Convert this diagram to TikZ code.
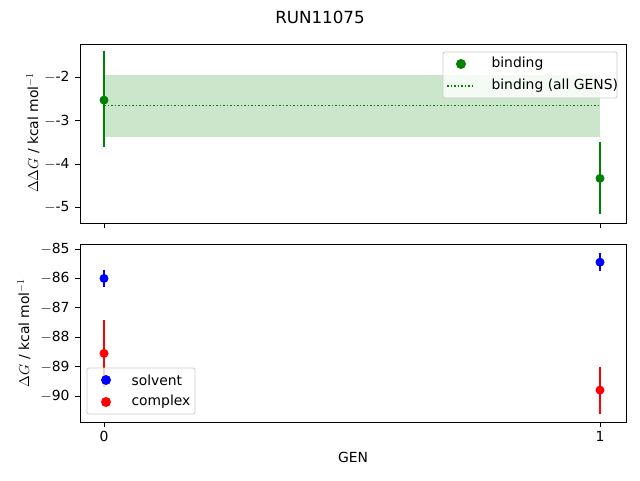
\documentclass[tikz,border=0pt]{standalone}
\usepackage{fontspec}
\setmainfont{DejaVu Sans}
\definecolor{mplgreen}{RGB}{0,128,0}
\definecolor{bandgreen}{RGB}{204,230,204}
\begin{document}
\begin{tikzpicture}[x=1pt,y=-1pt,font=\fontsize{13.9}{16}\selectfont,
  axis/.style={draw=black,line width=0.8pt},
  tick/.style={line width=0.8pt},
  err/.style={line width=1.5pt},
  dot/.style={fill=#1,draw=none},
  legendbox/.style={draw=black!20,fill=white,fill opacity=0.8,rounded corners=2pt,line width=0.8pt}]
\useasboundingbox (0,0) rectangle (640,480);
\node at (320,17) {\fontsize{16.7}{19}\selectfont RUN11075};

% top panel
\fill[bandgreen] (104,74.8) rectangle (600,137);
\draw[mplgreen,dotted,line width=1.5pt] (104,105.3) -- (600,105.3);
\draw[err,mplgreen] (104,50.9) -- (104,146.6);
\fill[dot=mplgreen] (104,100.1) circle (4.5);
\draw[err,mplgreen] (600,142.3) -- (600,214);
\fill[dot=mplgreen] (600,178.4) circle (4.5);
\draw[axis] (80,44) rectangle (626,223);
\foreach \v/\p in {-2/77,-3/120.5,-4/164,-5/207.5}
  {\draw[tick] (80,\p) -- (75,\p); \node[anchor=east] at (73,\p) {$-$\v};}
\foreach \p in {104,600} \draw[tick] (\p,223) -- (\p,228);
\node[rotate=90] at (33,133) {$\Delta\Delta G$ / kcal mol$^{-1}$};
\draw[legendbox] (443,52) rectangle (617,98);
\fill[dot=mplgreen] (461,64) circle (5);
\node[anchor=west] at (488,64) {binding};
\draw[mplgreen,dotted,line width=1.5pt] (447,86) -- (475,86);
\node[anchor=west] at (488,86) {binding (all GENS)};

% bottom panel
\draw[err,blue] (104,269.6) -- (104,287.2);
\fill[dot=blue] (104,278.4) circle (4.5);
\draw[err,blue] (600,253.4) -- (600,271);
\fill[dot=blue] (600,262.2) circle (4.5);
\draw[err,red] (104,319.6) -- (104,387.2);
\fill[dot=red] (104,353.4) circle (4.5);
\draw[err,red] (600,366.6) -- (600,413.6);
\fill[dot=red] (600,390.1) circle (4.5);
\draw[axis] (80,244) rectangle (626,422);
\foreach \v/\p in {85/249,86/278.4,87/307.8,88/337.2,89/366.6,90/396}
  {\draw[tick] (80,\p) -- (75,\p); \node[anchor=east] at (73,\p) {$-$\v};}
\foreach \v/\p in {0/104,1/600}
  {\draw[tick] (\p,422) -- (\p,427); \node[anchor=north] at (\p,428) {\v};}
\node[rotate=90] at (24,333) {$\Delta G$ / kcal mol$^{-1}$};
\draw[legendbox] (87,368) rectangle (195,414);
\fill[dot=blue] (106,380) circle (5);
\node[anchor=west] at (128,380) {solvent};
\fill[dot=red] (106,402) circle (5);
\node[anchor=west] at (128,402) {complex};
\node at (353,457) {GEN};
\end{tikzpicture}
\end{document}
